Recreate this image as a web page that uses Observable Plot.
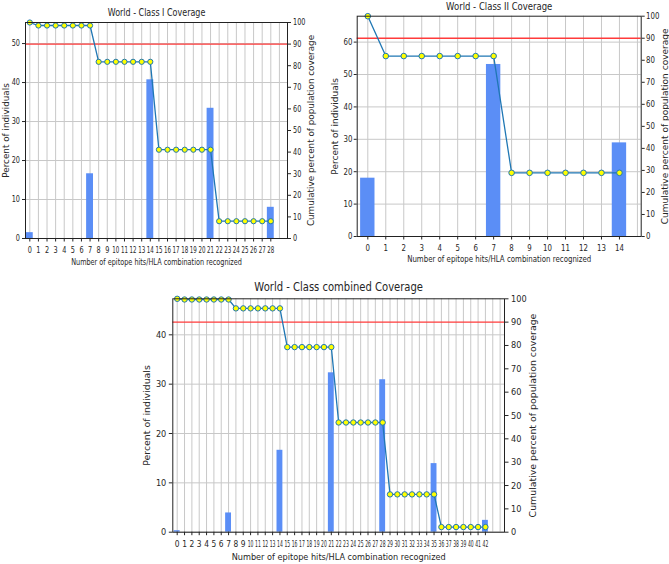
<!DOCTYPE html>
<html><head><meta charset="utf-8">
<script src="https://cdn.jsdelivr.net/npm/d3@7"></script>
<script src="https://cdn.jsdelivr.net/npm/@observablehq/plot@0.6"></script>
<style>
html,body{margin:0;padding:0;background:#fff;}
#wrap{position:relative;width:669px;height:564px;overflow:hidden;background:#fff;}
.panel{position:absolute;}
</style></head><body><div id="wrap"></div>
<script>
// ---------- text ----------
const titleI = "World - Class I Coverage";
const titleII = "World - Class II Coverage";
const titleC = "World - Class combined Coverage";
const xLabel = "Number of epitope hits/HLA combination recognized";
const yLabelLeft = "Percent of individuals";
const yLabelRight = "Cumulative percent of population coverage";

// ---------- Class I ----------
const classIBarX = [0, 7, 14, 21, 28];
const classIBarPct = [1.5, 16.6, 40.7, 33.4, 8.0];
const classICum = [100,
  98.6, 98.6, 98.6, 98.6, 98.6, 98.6, 98.6,
  81.8, 81.8, 81.8, 81.8, 81.8, 81.8, 81.8,
  41.1, 41.1, 41.1, 41.1, 41.1, 41.1, 41.1,
  8.0, 8.0, 8.0, 8.0, 8.0, 8.0, 8.0];
const classIXTicks = d3.range(0, 29);
const classILeftTicks = [0, 10, 20, 30, 40, 50];

// ---------- Class II ----------
const classIIBarX = [0, 7, 14];
const classIIBarPct = [18.0, 53.1, 28.9];
const classIICum = [100,
  81.9, 81.9, 81.9, 81.9, 81.9, 81.9, 81.9,
  28.9, 28.9, 28.9, 28.9, 28.9, 28.9, 28.9];
const classIIXTicks = d3.range(0, 15);
const classIILeftTicks = [0, 10, 20, 30, 40, 50, 60];

// ---------- Combined ----------
const combBarX = [0, 7, 14, 21, 28, 35, 42];
const combBarPct = [0.3, 3.9, 16.6, 32.3, 30.9, 13.9, 2.4];
const combCum = [100,
  99.7, 99.7, 99.7, 99.7, 99.7, 99.7, 99.7,
  95.9, 95.9, 95.9, 95.9, 95.9, 95.9, 95.9,
  79.3, 79.3, 79.3, 79.3, 79.3, 79.3, 79.3,
  47.0, 47.0, 47.0, 47.0, 47.0, 47.0, 47.0,
  16.2, 16.2, 16.2, 16.2, 16.2, 16.2, 16.2,
  2.2, 2.2, 2.2, 2.2, 2.2, 2.2, 2.2];
const combXTicks = d3.range(0, 43);
const combLeftTicks = [0, 10, 20, 30, 40];

const rightTicks = [0, 10, 20, 30, 40, 50, 60, 70, 80, 90, 100];
const threshold = 90;

function panel(c) {
  const k = c.yMax / 100;
  const bars = c.barX.map((x, i) => ({x, v: c.barPct[i]}));
  const cum = c.cum.map((v, i) => ({x: i, y: v * k}));
  const gridX = d3.range(0, Math.floor(c.xDomain[1]) + 1);
  const svg = Plot.plot({
    width: c.width, height: c.height,
    marginLeft: c.mL, marginRight: c.mR, marginTop: c.mT, marginBottom: c.mB,
    x: {domain: c.xDomain, axis: null},
    y: {domain: [0, c.yMax], axis: null},
    style: {fontFamily: "'DejaVu Sans', sans-serif", fontSize: c.font + "px", color: "#262626", background: "transparent"},
    marks: [
      Plot.ruleY(c.leftTicks, {stroke: "#c8c8c8", strokeWidth: 1}),
      Plot.ruleX(gridX, {stroke: "#c8c8c8", strokeWidth: 1}),
      Plot.rectY(bars, {x1: d => d.x - 0.4, x2: d => d.x + 0.4, y: "v", fill: "#5b8ef6"}),
      Plot.ruleY([threshold * k], {stroke: "#ff3b3b", strokeWidth: 1.4}),
      Plot.line(cum, {x: "x", y: "y", stroke: "#1f77b4", strokeWidth: 1.3}),
      Plot.dot(cum, {x: "x", y: "y", r: c.r, fill: "#ffff00", stroke: "#1f77b4", strokeWidth: 1}),
      Plot.frame({stroke: "#222"}),
      Plot.axisX(c.xTicks, {anchor: "bottom", tickSize: 3.5, tickPadding: c.xPad, label: null, tickFormat: d => String(d), ariaLabel: "xticks", fontSize: c.xTickFont}),
      Plot.axisY(c.leftTicks, {anchor: "left", tickSize: c.tS, tickPadding: c.tP, label: null, tickFormat: d => String(d)}),
      Plot.axisY(rightTicks.map(v => v * k), {anchor: "right", tickSize: c.tS, tickPadding: c.tP, label: null, tickFormat: d => String(Math.round(d / k))}),
      Plot.text([c.title], {frameAnchor: "top", dy: c.titleDy, fontSize: c.titleFont, textAnchor: "middle", lineAnchor: "middle"}),
      Plot.text([xLabel], {frameAnchor: "bottom", dy: c.xLabDy, textAnchor: "middle", lineAnchor: "middle"}),
      Plot.text([yLabelLeft], {frameAnchor: "left", dx: c.yLabDxL, rotate: -90, textAnchor: "middle", lineAnchor: "middle"}),
      Plot.text([yLabelRight], {frameAnchor: "right", dx: c.yLabDxR, rotate: -90, textAnchor: "middle", lineAnchor: "middle"})
    ]
  });
  const div = document.createElement("div");
  div.className = "panel";
  div.style.left = c.left + "px";
  div.style.top = c.top + "px";
  div.appendChild(svg);
  document.getElementById("wrap").appendChild(div);
  // horizontally condensed text, as in the reference picture
  const xStep = (c.width - c.mL - c.mR) / (c.xDomain[1] - c.xDomain[0]);
  svg.querySelectorAll("text").forEach(t => {
    const m = t.getCTM();
    if (m && Math.abs(m.b) > 0.5) return; // rotated labels keep their length
    const L = t.getComputedTextLength();
    if (!(L > 0)) return;
    let target = L * c.squeeze;
    const isXTick = t.closest('[aria-label^="xticks"]') !== null;
    if (isXTick) target = Math.min(target, xStep - 1.6); // keep crowded tick labels apart
    t.setAttribute("textLength", target.toFixed(2));
    t.setAttribute("lengthAdjust", "spacingAndGlyphs");
  });
}

panel({left: 0, top: 0, width: 330, height: 275, mL: 25, mR: 43, mT: 22, mB: 37,
  xDomain: [-0.5, 29.94], yMax: 55.4, barX: classIBarX, barPct: classIBarPct, cum: classICum,
  xTicks: classIXTicks, leftTicks: classILeftTicks, font: 8.8, xTickFont: 8.8, titleFont: 10.8, squeeze: 0.74,
  title: titleI, titleDy: -10, yLabDxL: -19.5, yLabDxR: 24, xLabDy: 24, r: 2.6, tS: 3, tP: 2.5, xPad: 4.4});

panel({left: 330, top: 0, width: 339, height: 270, mL: 26.7, mR: 28.3, mT: 15.7, mB: 34,
  xDomain: [-0.59, 15.21], yMax: 68.0, barX: classIIBarX, barPct: classIIBarPct, cum: classIICum,
  xTicks: classIIXTicks, leftTicks: classIILeftTicks, font: 9.0, xTickFont: 9.0, titleFont: 10.9, squeeze: 0.78,
  title: titleII, titleDy: -10, yLabDxL: -21.7, yLabDxR: 23.6, xLabDy: 23, r: 2.8, tS: 3, tP: 1.8, xPad: 4.3});

panel({left: 130, top: 280, width: 420, height: 284, mL: 42.3, mR: 46, mT: 18.3, mB: 32.3,
  xDomain: [-0.6, 44.6], yMax: 47.3, barX: combBarX, barPct: combBarPct, cum: combCum,
  xTicks: combXTicks, leftTicks: combLeftTicks, font: 9.4, xTickFont: 8.6, titleFont: 11.5, squeeze: 0.87,
  title: titleC, titleDy: -11.3, yLabDxL: -26.3, yLabDxR: 28.3, xLabDy: 25, r: 2.7, tS: 3.5, tP: 3, xPad: 4.8});
</script></body></html>
